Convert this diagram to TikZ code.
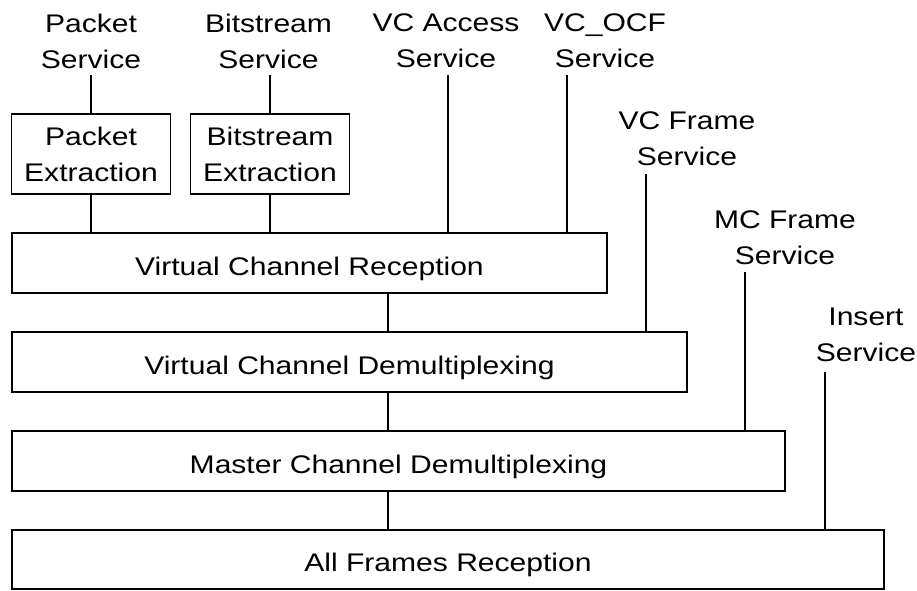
\documentclass[tikz,border=0pt]{standalone}
\usepackage{fontspec}
\setmainfont{Liberation Sans}[FakeStretch=1.18]
\begin{document}
\begin{tikzpicture}[x=0.75pt,y=-0.75pt,
  every node/.style={font=\fontsize{19.1pt}{27pt}\selectfont},
  box/.style={draw, line width=1.4pt, inner sep=0pt, align=center},
  widebox/.style={box, minimum height=45pt, text height=18.5pt, text depth=0pt},
  lbl/.style={inner sep=0pt, align=center},
  conn/.style={line width=1.4pt}]
\useasboundingbox (0,0) rectangle (917,590);

% boxes
\node[box, minimum width=119.25pt, minimum height=60pt] (pe) at (91,154) {Packet\\Extraction};
\node[box, minimum width=119.25pt, minimum height=60pt] (be) at (270,154) {Bitstream\\Extraction};
\node[widebox, minimum width=446.25pt] (vcr) at (309.5,263) {Virtual Channel Reception};
\node[widebox, minimum width=506.25pt] (vcd) at (349.5,362) {Virtual Channel Demultiplexing};
\node[widebox, minimum width=579.75pt] (mcd) at (398.5,461) {Master Channel Demultiplexing};
\node[widebox, minimum width=654pt, minimum height=44.25pt] (afr) at (448,559.5) {All Frames Reception};

% service labels
\node[lbl] (pks) at (91,41) {Packet\\Service};
\node[lbl] (bss) at (268.5,41) {Bitstream\\Service};
\node[lbl] (vca) at (446,41) {VC Access\\Service};
\node[lbl] (ocf) at (605,41) {VC\_OCF\\Service};
\node[lbl] (vcf) at (687,139) {VC Frame\\Service};
\node[lbl] (mcf) at (785,237.5) {MC Frame\\Service};
\node[lbl] (ins) at (866,335) {Insert\\Service};

% connector top ends
\coordinate (pkT) at (91,75);
\coordinate (bsT) at (270,75);
\coordinate (vcaT) at (448,75);
\coordinate (ocfT) at (567,75);
\coordinate (vcfT) at (646,174);
\coordinate (mcfT) at (745,272);
\coordinate (insT) at (825,372);
\coordinate (spine) at (388,0);

% connectors
\draw[conn] (pkT) -- (pkT |- pe.north);
\draw[conn] (bsT) -- (bsT |- be.north);
\draw[conn] (pe.south) -- (pe.south |- vcr.north);
\draw[conn] (be.south) -- (be.south |- vcr.north);
\draw[conn] (vcaT) -- (vcaT |- vcr.north);
\draw[conn] (ocfT) -- (ocfT |- vcr.north);
\draw[conn] (vcfT) -- (vcfT |- vcd.north);
\draw[conn] (mcfT) -- (mcfT |- mcd.north);
\draw[conn] (insT) -- (insT |- afr.north);
\draw[conn] (vcr.south -| spine) -- (vcd.north -| spine);
\draw[conn] (vcd.south -| spine) -- (mcd.north -| spine);
\draw[conn] (mcd.south -| spine) -- (afr.north -| spine);
\end{tikzpicture}
\end{document}
